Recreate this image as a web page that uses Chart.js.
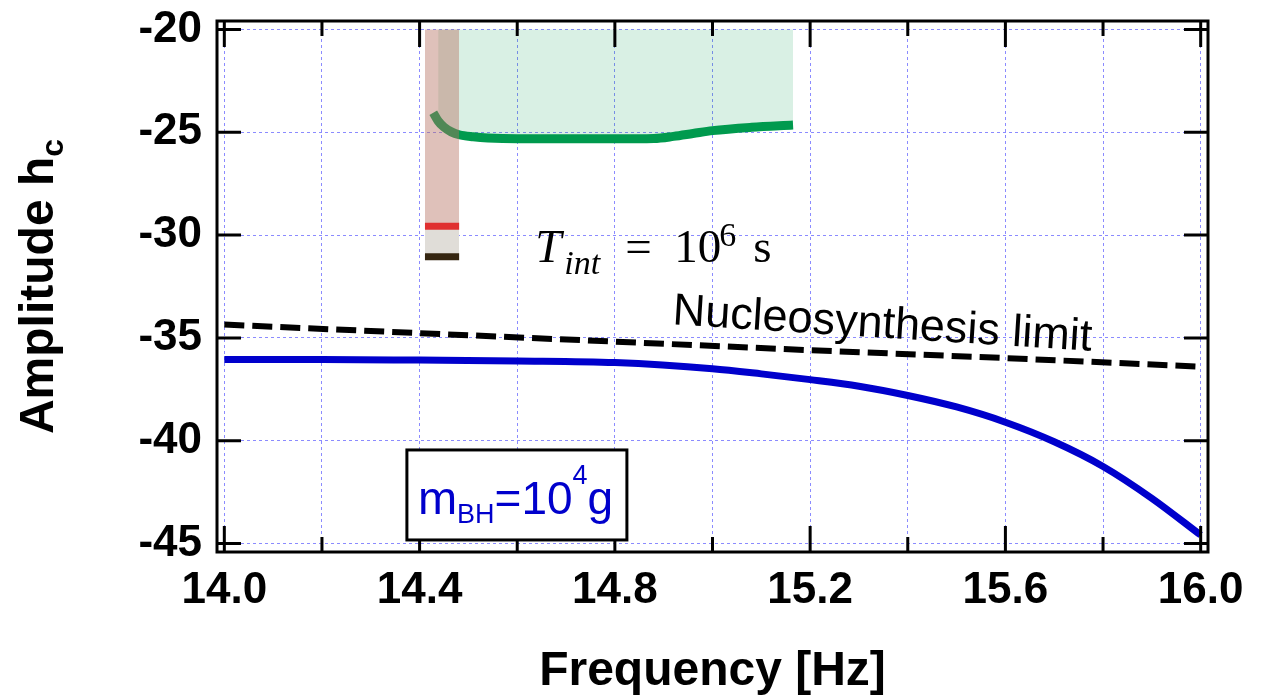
<!DOCTYPE html>
<html>
<head>
<meta charset="utf-8">
<script src="https://cdn.jsdelivr.net/npm/chart.js@4.4.0/dist/chart.umd.min.js"></script>
<style>
  html, body { margin: 0; padding: 0; background: #fff; }
</style>
</head>
<body>
<canvas id="chartAmp" width="1273" height="696"></canvas>
<script>
// axis ticks
const xTicks = [14.0, 14.2, 14.4, 14.6, 14.8, 15.0, 15.2, 15.4, 15.6, 15.8, 16.0];
const xLabels = ['14.0', '14.4', '14.8', '15.2', '15.6', '16.0'];
const yTicks = [-45, -40, -35, -30, -25, -20];

// m_BH = 10^4 g spectrum (blue)
const bhFreq = [14.0, 14.2, 14.4, 14.6, 14.8, 15.0, 15.1, 15.2, 15.3, 15.4, 15.5, 15.6, 15.7, 15.8, 15.9, 16.0];
const bhAmp  = [-36.05, -36.05, -36.08, -36.12, -36.2, -36.5, -36.75, -37.03, -37.35, -37.8, -38.36, -39.1, -40.05, -41.25, -42.8, -44.59];

// nucleosynthesis limit (dashed)
const nucFreq = [14.0, 14.4, 14.8, 15.2, 15.6, 16.0];
const nucAmp  = [-34.35, -34.77, -35.18, -35.6, -35.98, -36.4];

// detector sensitivity curve (green)
const detFreq = [14.428, 14.438, 14.45, 14.465, 14.481, 14.51, 14.54, 14.6, 14.8, 14.88, 14.92, 14.96, 15.0, 15.08, 15.165];
const detAmp  = [-24.05, -24.45, -24.75, -24.98, -25.12, -25.22, -25.28, -25.32, -25.32, -25.3, -25.2, -25.06, -24.92, -24.76, -24.65];
const detFillStart = 14.438;

// narrow band region (red / black limits)
const bandFreq = [14.411, 14.481];
const bandTop = -20;
const redLimit = -29.57;
const blackLimit = -31.05;

const pts = (xs, ys) => xs.map((x, i) => ({ x: x, y: ys[i] }));
const flat = (xs, v) => xs.map(x => ({ x: x, y: v }));

const FONT = '"Liberation Sans", Arial, sans-serif';
const SERIF = '"Liberation Serif", "Times New Roman", serif';

const frame = {
    id: 'frame',
    afterDraw(chart) {
        const { ctx, chartArea: a, scales: { x, y } } = chart;
        ctx.save();
        ctx.strokeStyle = '#000';
        ctx.lineWidth = 3;
        ctx.beginPath();
        xTicks.forEach(v => {
            const px = x.getPixelForValue(v);
            const len = xLabels.includes(v.toFixed(1)) ? 26 : 15;
            ctx.moveTo(px, a.bottom); ctx.lineTo(px, a.bottom - len);
            ctx.moveTo(px, a.top); ctx.lineTo(px, a.top + len);
        });
        yTicks.forEach(v => {
            const py = y.getPixelForValue(v);
            ctx.moveTo(a.left, py); ctx.lineTo(a.left + 24, py);
            ctx.moveTo(a.right, py); ctx.lineTo(a.right - 24, py);
        });
        ctx.stroke();
        ctx.strokeRect(a.left, a.top, a.right - a.left, a.bottom - a.top);
        ctx.restore();
    }
};

const notes = {
    id: 'notes',
    afterDraw(chart) {
        const { ctx, chartArea: a, scales: { x, y } } = chart;
        ctx.save();
        ctx.fillStyle = '#000';
        ctx.textBaseline = 'alphabetic';

        // T_int = 10^6 s
        let tx = x.getPixelForValue(14.637), ty = y.getPixelForValue(-31.29);
        ctx.font = 'italic 47px ' + SERIF;
        ctx.fillText('T', tx, ty);
        ctx.font = 'italic 34px ' + SERIF;
        ctx.fillText('int', tx + 29, ty + 12);
        ctx.font = '47px ' + SERIF;
        ctx.fillText('=', tx + 90, ty);
        ctx.fillText('10', tx + 139, ty);
        ctx.font = '34px ' + SERIF;
        ctx.fillText('6', tx + 184, ty - 16);
        ctx.font = '47px ' + SERIF;
        ctx.fillText('s', tx + 218, ty);

        // Nucleosynthesis limit
        ctx.save();
        ctx.translate(x.getPixelForValue(14.917), y.getPixelForValue(-34.34));
        ctx.rotate(3.6 * Math.PI / 180);
        ctx.font = '45px ' + FONT;
        ctx.fillText('Nucleosynthesis limit', 0, 0);
        ctx.restore();

        // m_BH box
        const bx = x.getPixelForValue(14.374), by = y.getPixelForValue(-40.45);
        ctx.fillStyle = '#fff';
        ctx.fillRect(bx, by, 220, 90);
        ctx.strokeStyle = '#000';
        ctx.lineWidth = 3;
        ctx.strokeRect(bx, by, 220, 90);
        ctx.fillStyle = '#0000cc';
        let cx = bx + 11, base = by + 64;
        const part = (txt, size, dy) => {
            ctx.font = size + 'px ' + FONT;
            ctx.fillText(txt, cx, base + dy);
            cx += ctx.measureText(txt).width;
        };
        part('m', 47, 0);
        part('BH', 27, 9);
        part('=', 46, 0);
        part('10', 46, 0);
        part('4', 27, -30);
        part('g', 46, 0);

        // axis titles
        ctx.fillStyle = '#000';
        ctx.font = 'bold 48px ' + FONT;
        ctx.textAlign = 'center';
        ctx.fillText('Frequency [Hz]', (a.left + a.right) / 2, 685);

        ctx.save();
        ctx.translate(53, (a.top + a.bottom) / 2);
        ctx.rotate(-Math.PI / 2);
        ctx.textAlign = 'left';
        ctx.font = 'bold 48px ' + FONT;
        const w1 = ctx.measureText('Amplitude h').width;
        ctx.font = 'bold 32px ' + FONT;
        const w2 = ctx.measureText('c').width;
        const s = -(w1 + w2) / 2;
        ctx.font = 'bold 48px ' + FONT;
        ctx.fillText('Amplitude h', s, 0);
        ctx.font = 'bold 32px ' + FONT;
        ctx.fillText('c', s + w1, 10);
        ctx.restore();

        ctx.restore();
    }
};

const line = (data, extra) => Object.assign({
    data: data,
    pointRadius: 0,
    borderWidth: 0,
    fill: false
}, extra);

new Chart(document.getElementById('chartAmp'), {
    type: 'line',
    data: {
        datasets: [
            line(flat(bandFreq, redLimit), { borderColor: '#e03030', borderWidth: 7 }),
            line(flat(bandFreq, blackLimit), { borderColor: '#352510', borderWidth: 7 }),
            line(flat(bandFreq, redLimit), { backgroundColor: '#e0ddd8', fill: { value: blackLimit } }),
            line(flat(bandFreq, bandTop), { backgroundColor: 'rgba(182,113,99,0.44)', fill: { value: redLimit } }),
            line(pts(detFreq, detAmp), { borderColor: '#009a4e', borderWidth: 9, cubicInterpolationMode: 'monotone' }),
            line(pts(detFreq, detAmp).filter(p => p.x >= detFillStart),
                 { backgroundColor: 'rgba(0,153,76,0.15)', fill: { value: bandTop }, cubicInterpolationMode: 'monotone' }),
            line(pts(nucFreq, nucAmp), { borderColor: '#000', borderWidth: 6, borderDash: [20, 8] }),
            line(pts(bhFreq, bhAmp), { borderColor: '#0000cc', borderWidth: 7, cubicInterpolationMode: 'monotone' })
        ]
    },
    options: {
        responsive: false,
        animation: false,
        layout: { padding: { left: 0, top: 21, right: 65, bottom: 0 } },
        plugins: { legend: { display: false }, tooltip: { enabled: false } },
        scales: {
            x: {
                type: 'linear',
                min: 13.985,
                max: 16.015,
                afterBuildTicks: s => { s.ticks = xTicks.map(v => ({ value: v })); },
                afterFit: s => { s.height = 144; s.paddingLeft = 0; s.paddingRight = 0; },
                grid: { color: 'rgba(110,110,255,0.8)', lineWidth: 1, drawTicks: false },
                border: { display: false, dash: [3, 3] },
                ticks: {
                    autoSkip: false,
                    maxRotation: 0,
                    padding: 12,
                    color: '#000',
                    font: { family: FONT, size: 44, weight: 'bold' },
                    callback: v => xLabels.includes(v.toFixed(1)) ? v.toFixed(1) : ''
                }
            },
            y: {
                min: -45.413,
                max: -19.587,
                afterBuildTicks: s => { s.ticks = yTicks.map(v => ({ value: v })); },
                afterFit: s => { s.width = 217; s.paddingTop = 0; s.paddingBottom = 0; },
                grid: { color: 'rgba(110,110,255,0.8)', lineWidth: 1, drawTicks: false },
                border: { display: false, dash: [3, 3] },
                ticks: {
                    padding: 15,
                    color: '#000',
                    font: { family: FONT, size: 44, weight: 'bold' },
                    callback: v => String(v)
                }
            }
        }
    },
    plugins: [frame, notes]
});
</script>
</body>
</html>
